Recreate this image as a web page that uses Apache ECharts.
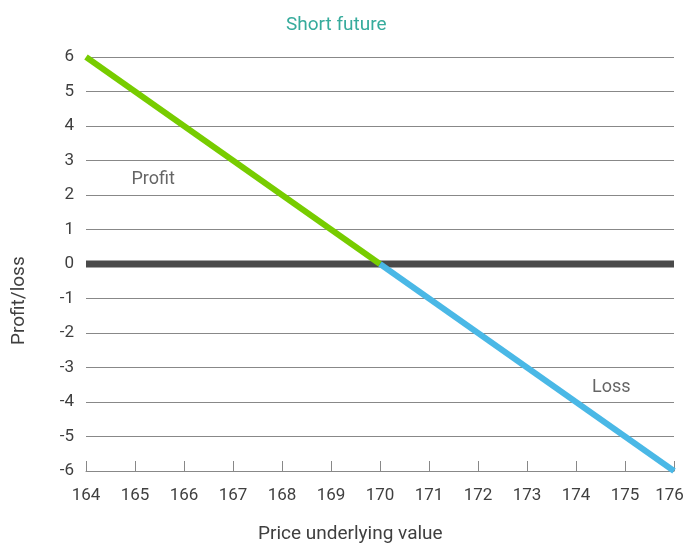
<!DOCTYPE html>
<html>
<head>
<meta charset="utf-8">
<script src="https://cdn.jsdelivr.net/npm/echarts@6/dist/echarts.min.js"></script>
<style>
  html, body { margin: 0; padding: 0; background: #fff; }
  #chart { width: 686px; height: 545px; }
</style>
</head>
<body>
<div id="chart"></div>
<script>
// data
var prices = [164, 165, 166, 167, 168, 169, 170, 171, 172, 173, 174, 175, 176];
var profitLine = [[164, 6], [170, 0]];
var lossLine = [[170, 0], [176, -6]];
var zeroLine = [[164, 0], [176, 0]];
var textLabels = [
  { name: 'Profit', value: [165.37, 2.45] },
  { name: 'Loss', value: [174.72, -3.58] }
];

var chart = echarts.init(document.getElementById('chart'));
var font = 'Roboto';
var textColor = '#3f3f3f';
var lastPrice = prices[prices.length - 1];

var option = {
  animation: false,
  title: {
    text: 'Short future',
    left: 281,
    top: 11,
    textStyle: { color: '#36ab9c', fontSize: 19, fontWeight: 'normal', fontFamily: font }
  },
  grid: { left: 86, right: 12, top: 57, bottom: 74, outerBoundsMode: 'none', containLabel: false },
  xAxis: {
    type: 'value',
    min: prices[0],
    max: lastPrice,
    interval: 1,
    axisLine: { show: true, onZero: false, lineStyle: { color: '#888', width: 1 } },
    axisTick: { show: true, inside: true, length: 10, lineStyle: { color: '#888' } },
    splitLine: { show: false },
    axisLabel: {
      color: textColor, fontSize: 17, fontFamily: font, margin: 16,
      // last label pulled in a bit so it stays on the canvas
      formatter: function (v) { return v === lastPrice ? '{last|' + v + '}' : String(v); },
      rich: { last: { padding: [0, 9, 0, 0], fontSize: 17, fontFamily: font, color: textColor } }
    }
  },
  yAxis: {
    type: 'value',
    min: -6,
    max: 6,
    interval: 1,
    axisLine: { show: false },
    axisTick: { show: false },
    splitLine: { show: true, lineStyle: { color: '#888', width: 1 } },
    axisLabel: { color: textColor, fontSize: 17, fontFamily: font, margin: 12 }
  },
  graphic: [
    {
      type: 'text',
      left: 258,
      top: 525,
      style: { text: 'Price underlying value', fill: textColor, fontSize: 19, fontFamily: font }
    },
    {
      type: 'text',
      x: 10,
      y: 345,
      rotation: Math.PI / 2,
      style: { text: 'Profit/loss', fill: textColor, fontSize: 19, fontFamily: font }
    }
  ],
  series: [
    {
      type: 'line',
      data: zeroLine,
      symbol: 'none',
      lineStyle: { color: '#4a4a4a', width: 7, cap: 'butt' },
      z: 2
    },
    {
      type: 'line',
      data: profitLine,
      symbol: 'none',
      lineStyle: { color: '#77cc00', width: 6, cap: 'butt' },
      z: 3
    },
    {
      type: 'line',
      data: lossLine,
      symbol: 'none',
      lineStyle: { color: '#4ab8e6', width: 6, cap: 'butt' },
      z: 3
    },
    {
      type: 'scatter',
      data: textLabels,
      symbolSize: 0,
      label: {
        show: true,
        formatter: '{b}',
        position: 'inside',
        color: textColor,
        fontSize: 18,
        fontFamily: font
      },
      z: 4
    }
  ]
};

chart.setOption(option);
</script>
</body>
</html>
